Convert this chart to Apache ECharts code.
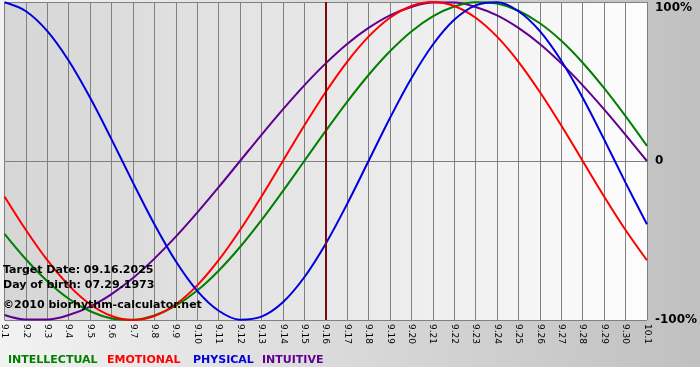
<!DOCTYPE html>
<html>
<head>
<meta charset="utf-8">
<script src="https://cdn.jsdelivr.net/npm/echarts@6/dist/echarts.min.js"></script>
<style>html,body{margin:0;padding:0;background:#fff}#c{width:700px;height:380px}</style>
</head>
<body>
<div id="c"></div>
<script>
var days = ['9.1','9.2','9.3','9.4','9.5','9.6','9.7','9.8','9.9','9.10','9.11','9.12','9.13','9.14','9.15','9.16','9.17','9.18','9.19','9.20','9.21','9.22','9.23','9.24','9.25','9.26','9.27','9.28','9.29','9.30','10.1'];
var intellectual = [-45.8,-61.8,-75.6,-86.6,-94.5,-99.0,-99.9,-97.2,-91.0,-81.5,-69.0,-54.1,-37.2,-18.9,0,18.9,37.2,54.1,69.0,81.5,91.0,97.2,99.9,99.0,94.5,86.6,75.6,61.8,45.8,28.2,9.5];
var emotional = [-22.3,-43.4,-62.4,-78.2,-90.1,-97.5,-100,-97.5,-90.1,-78.2,-62.4,-43.4,-22.3,0,22.3,43.4,62.4,78.2,90.1,97.5,100,97.5,90.1,78.2,62.4,43.4,22.3,0,-22.3,-43.4,-62.4];
var physical = [99.8,94.2,81.7,63.1,39.8,13.6,-13.6,-39.8,-63.1,-81.7,-94.2,-99.8,-97.9,-88.8,-73.1,-52.0,-27.0,0,27.0,52.0,73.1,88.8,97.9,99.8,94.2,81.7,63.1,39.8,13.6,-13.6,-39.8];
var intuitive = [-96.9,-99.7,-99.7,-96.9,-91.6,-83.7,-73.6,-61.4,-47.6,-32.5,-16.5,0,16.5,32.5,47.6,61.4,73.6,83.7,91.6,96.9,99.7,99.7,96.9,91.6,83.7,73.6,61.4,47.6,32.5,16.5,0];
var targetDay = '9.16';
var yTicks = {min: -100, max: 100, step: 100};
var infoLines = ['Target Date: 09.16.2025', 'Day of birth: 07.29.1973', '\u00a92010 biorhythm-calculator.net'];
var legendNames = ['INTELLECTUAL', 'EMOTIONAL', 'PHYSICAL', 'INTUITIVE'];

var colors = {INTELLECTUAL: '#008000', EMOTIONAL: '#ff0000', PHYSICAL: '#0000dd', INTUITIVE: '#600090'};
var FONT = '"DejaVu Sans", Verdana, sans-serif';

var chart = echarts.init(document.getElementById('c'));

function mk(name, data) {
  return {
    name: name, type: 'line', data: data, smooth: 0.35, symbol: 'none',
    lineStyle: {color: colors[name], width: 2}, itemStyle: {color: colors[name]},
    animation: false
  };
}

var series = [
  mk('INTUITIVE', intuitive),
  mk('INTELLECTUAL', intellectual),
  mk('EMOTIONAL', emotional),
  mk('PHYSICAL', physical)
];
series[0].markLine = {
  silent: true, symbol: 'none', label: {show: false},
  lineStyle: {color: '#7a0a0a', width: 2, type: 'solid'},
  data: [{xAxis: targetDay}], animation: false
};

var legendX = [8, 107, 193, 262];
var graphics = [{
  type: 'rect', z: -10, silent: true,
  shape: {x: 0, y: 0, width: 700, height: 367},
  style: {fill: new echarts.graphic.LinearGradient(0, 0, 1, 0, [{offset: 0, color: '#f2f2f2'}, {offset: 1, color: '#c0c0c0'}])}
}];
legendNames.forEach(function (n, i) {
  graphics.push({type: 'text', left: legendX[i], top: 355, z: 100,
    style: {text: n, fill: colors[n], font: 'bold 11px ' + FONT}});
});
var infoY = [265, 280, 300];
infoLines.forEach(function (t, i) {
  graphics.push({type: 'text', left: 3, top: infoY[i], z: 100,
    style: {text: t, fill: '#000', font: 'bold 11px ' + FONT}});
});

chart.setOption({
  animation: false,
  backgroundColor: '#ffffff',
  grid: {
    left: 0, right: 50, top: 2, bottom: 60, show: true, borderWidth: 0,
    backgroundColor: new echarts.graphic.LinearGradient(0, 0, 1, 0, [{offset: 0, color: '#d6d6d6'}, {offset: 0.5, color: '#e8e8e8'}, {offset: 1, color: '#fdfdfd'}])
  },
  xAxis: {
    type: 'category', data: days, boundaryGap: false,
    axisLine: {show: true, lineStyle: {color: '#808080', width: 1}},
    axisTick: {show: true, length: 4, interval: 0, lineStyle: {color: '#808080'}},
    axisLabel: {interval: 0, rotate: -90, fontSize: 9, color: '#000', fontFamily: FONT, margin: 4},
    splitLine: {show: true, interval: 0, lineStyle: {color: '#808080', width: 1}}
  },
  yAxis: {
    type: 'value', position: 'right', min: yTicks.min, max: yTicks.max, interval: yTicks.step,
    axisLine: {show: false}, axisTick: {show: false},
    axisLabel: {
      margin: 8, color: '#000', fontSize: 12, fontWeight: 'bold', fontFamily: FONT,
      formatter: function (v) {
        if (v === 0) return '0';
        if (v === yTicks.max) return '{t|' + v + '%}';
        return v + '%';
      },
      rich: {t: {padding: [12, 0, 0, 0], fontSize: 12, fontWeight: 'bold', fontFamily: FONT, color: '#000'}}
    },
    splitLine: {show: true, lineStyle: {color: '#808080', width: 1}}
  },
  graphic: graphics,
  series: series
});
</script>
</body>
</html>
